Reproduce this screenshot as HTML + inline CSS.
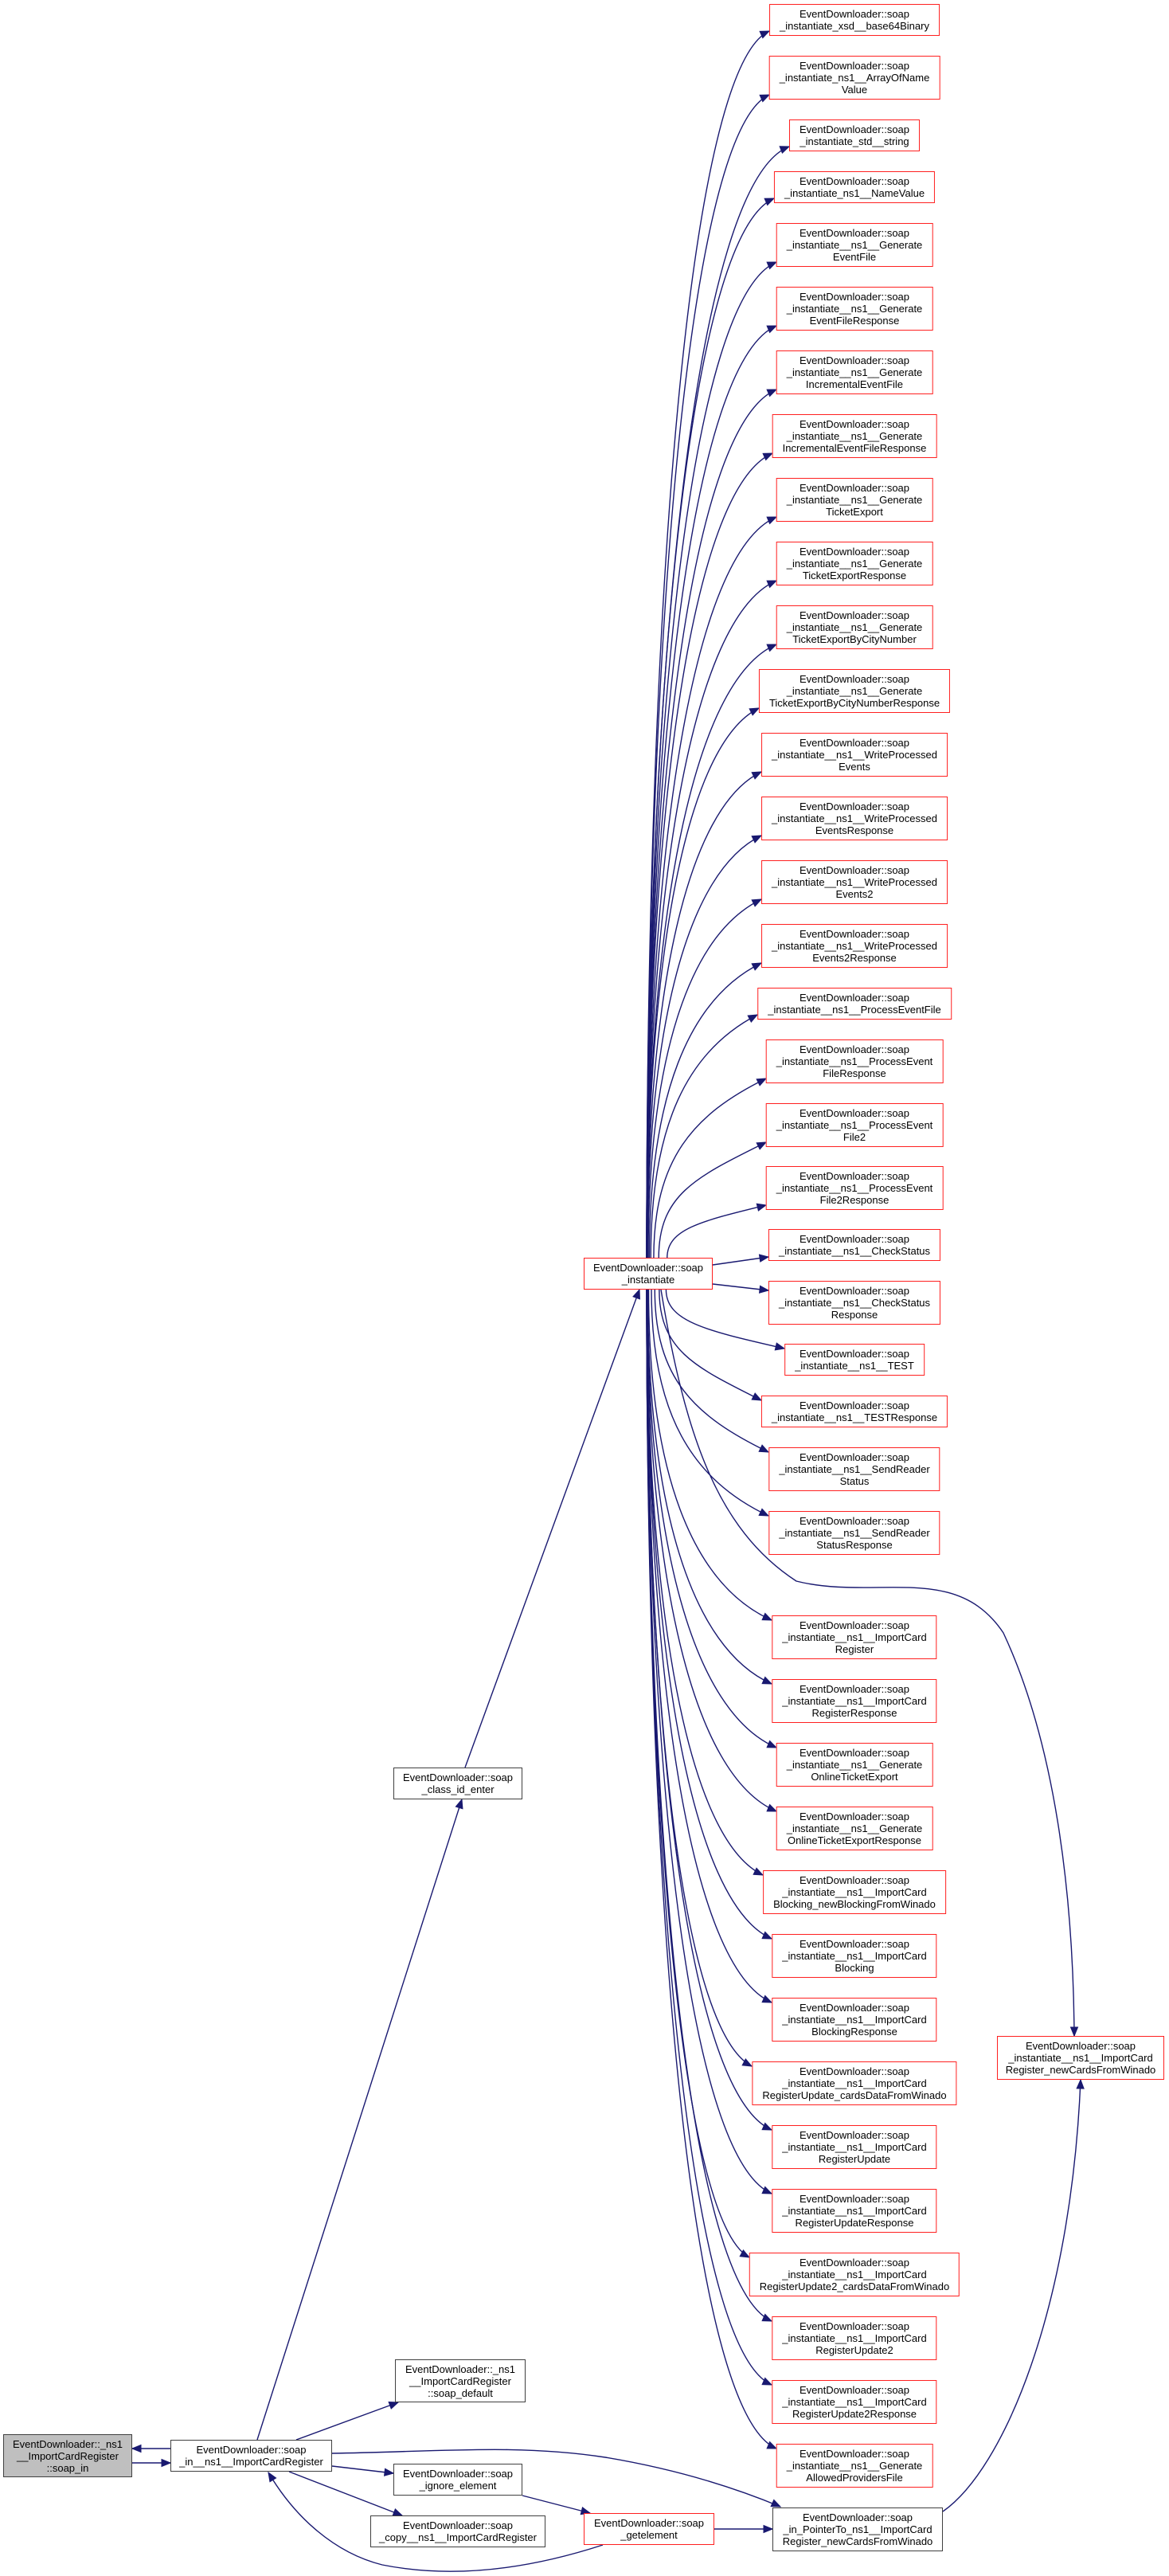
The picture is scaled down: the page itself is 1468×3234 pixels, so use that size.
<!DOCTYPE html>
<html><head><meta charset="utf-8">
<style>
html,body{margin:0;padding:0;background:#fff;}
body{width:1468px;height:3234px;position:relative;overflow:hidden;font-family:"Liberation Sans",Arial,sans-serif;}
.n{position:absolute;box-sizing:border-box;border:1.5px solid #ff2020;background:#fff;font-size:13px;line-height:15px;text-align:center;padding-top:4px;white-space:nowrap;color:#000;}
.b{border-color:#404040;}
.g{background:#bfbfbf;}
.r{left:1073px;transform:translateX(-50%);padding-left:12px;padding-right:12px;}
.h2{height:40px;}
.h3{height:55px;}
svg{position:absolute;left:0;top:0;}
</style></head><body>
<svg id="s" width="1468" height="3234"></svg>

<div class="n b g" id="soapin" style="left:4px;top:3056px;width:162px;height:54px;">EventDownloader::_ns1<br>__ImportCardRegister<br>::soap_in</div>
<div class="n b" id="inns1" style="left:214px;top:3063px;width:203px;height:40px;">EventDownloader::soap<br>_in__ns1__ImportCardRegister</div>
<div class="n b" id="classid" style="left:494px;top:2219px;width:162px;height:40px;">EventDownloader::soap<br>_class_id_enter</div>
<div class="n b" id="sdef" style="left:496px;top:2962px;width:164px;height:54px;">EventDownloader::_ns1<br>__ImportCardRegister<br>::soap_default</div>
<div class="n b" id="ign" style="left:494px;top:3093px;width:162px;height:40px;">EventDownloader::soap<br>_ignore_element</div>
<div class="n b" id="copy" style="left:465px;top:3158px;width:220px;height:40px;">EventDownloader::soap<br>_copy__ns1__ImportCardRegister</div>
<div class="n" id="inst" style="left:733px;top:1579px;width:162px;height:40px;">EventDownloader::soap<br>_instantiate</div>
<div class="n" id="getel" style="left:733px;top:3155px;width:164px;height:40px;">EventDownloader::soap<br>_getelement</div>
<div class="n b" id="ptr" style="left:970px;top:3148px;width:214px;height:55px;">EventDownloader::soap<br>_in_PointerTo_ns1__ImportCard<br>Register_newCardsFromWinado</div>
<div class="n" id="newc" style="left:1252px;top:2556px;width:210px;height:55px;">EventDownloader::soap<br>_instantiate__ns1__ImportCard<br>Register_newCardsFromWinado</div>

<div class="n r h2 rc" style="top:5px">EventDownloader::soap<br>_instantiate_xsd__base64Binary</div>
<div class="n r h3 rc" style="top:70px">EventDownloader::soap<br>_instantiate_ns1__ArrayOfName<br>Value</div>
<div class="n r h2 rc" style="top:150px">EventDownloader::soap<br>_instantiate_std__string</div>
<div class="n r h2 rc" style="top:215px">EventDownloader::soap<br>_instantiate_ns1__NameValue</div>
<div class="n r h3 rc" style="top:280px">EventDownloader::soap<br>_instantiate__ns1__Generate<br>EventFile</div>
<div class="n r h3 rc" style="top:360px">EventDownloader::soap<br>_instantiate__ns1__Generate<br>EventFileResponse</div>
<div class="n r h3 rc" style="top:440px">EventDownloader::soap<br>_instantiate__ns1__Generate<br>IncrementalEventFile</div>
<div class="n r h3 rc" style="top:520px">EventDownloader::soap<br>_instantiate__ns1__Generate<br>IncrementalEventFileResponse</div>
<div class="n r h3 rc" style="top:600px">EventDownloader::soap<br>_instantiate__ns1__Generate<br>TicketExport</div>
<div class="n r h3 rc" style="top:680px">EventDownloader::soap<br>_instantiate__ns1__Generate<br>TicketExportResponse</div>
<div class="n r h3 rc" style="top:760px">EventDownloader::soap<br>_instantiate__ns1__Generate<br>TicketExportByCityNumber</div>
<div class="n r h3 rc" style="top:840px">EventDownloader::soap<br>_instantiate__ns1__Generate<br>TicketExportByCityNumberResponse</div>
<div class="n r h3 rc" style="top:920px">EventDownloader::soap<br>_instantiate__ns1__WriteProcessed<br>Events</div>
<div class="n r h3 rc" style="top:1000px">EventDownloader::soap<br>_instantiate__ns1__WriteProcessed<br>EventsResponse</div>
<div class="n r h3 rc" style="top:1080px">EventDownloader::soap<br>_instantiate__ns1__WriteProcessed<br>Events2</div>
<div class="n r h3 rc" style="top:1160px">EventDownloader::soap<br>_instantiate__ns1__WriteProcessed<br>Events2Response</div>
<div class="n r h2 rc" style="top:1240px">EventDownloader::soap<br>_instantiate__ns1__ProcessEventFile</div>
<div class="n r h3 rc" style="top:1305px">EventDownloader::soap<br>_instantiate__ns1__ProcessEvent<br>FileResponse</div>
<div class="n r h3 rc" style="top:1385px">EventDownloader::soap<br>_instantiate__ns1__ProcessEvent<br>File2</div>
<div class="n r h3 rc" style="top:1464px">EventDownloader::soap<br>_instantiate__ns1__ProcessEvent<br>File2Response</div>
<div class="n r h2 rc" style="top:1543px">EventDownloader::soap<br>_instantiate__ns1__CheckStatus</div>
<div class="n r h3 rc" style="top:1608px">EventDownloader::soap<br>_instantiate__ns1__CheckStatus<br>Response</div>
<div class="n r h2 rc" style="top:1687px">EventDownloader::soap<br>_instantiate__ns1__TEST</div>
<div class="n r h2 rc" style="top:1752px">EventDownloader::soap<br>_instantiate__ns1__TESTResponse</div>
<div class="n r h3 rc" style="top:1817px">EventDownloader::soap<br>_instantiate__ns1__SendReader<br>Status</div>
<div class="n r h3 rc" style="top:1897px">EventDownloader::soap<br>_instantiate__ns1__SendReader<br>StatusResponse</div>
<div class="n r h3 rc" style="top:2028px">EventDownloader::soap<br>_instantiate__ns1__ImportCard<br>Register</div>
<div class="n r h3 rc" style="top:2108px">EventDownloader::soap<br>_instantiate__ns1__ImportCard<br>RegisterResponse</div>
<div class="n r h3 rc" style="top:2188px">EventDownloader::soap<br>_instantiate__ns1__Generate<br>OnlineTicketExport</div>
<div class="n r h3 rc" style="top:2268px">EventDownloader::soap<br>_instantiate__ns1__Generate<br>OnlineTicketExportResponse</div>
<div class="n r h3 rc" style="top:2348px">EventDownloader::soap<br>_instantiate__ns1__ImportCard<br>Blocking_newBlockingFromWinado</div>
<div class="n r h3 rc" style="top:2428px">EventDownloader::soap<br>_instantiate__ns1__ImportCard<br>Blocking</div>
<div class="n r h3 rc" style="top:2508px">EventDownloader::soap<br>_instantiate__ns1__ImportCard<br>BlockingResponse</div>
<div class="n r h3 rc" style="top:2588px">EventDownloader::soap<br>_instantiate__ns1__ImportCard<br>RegisterUpdate_cardsDataFromWinado</div>
<div class="n r h3 rc" style="top:2668px">EventDownloader::soap<br>_instantiate__ns1__ImportCard<br>RegisterUpdate</div>
<div class="n r h3 rc" style="top:2748px">EventDownloader::soap<br>_instantiate__ns1__ImportCard<br>RegisterUpdateResponse</div>
<div class="n r h3 rc" style="top:2828px">EventDownloader::soap<br>_instantiate__ns1__ImportCard<br>RegisterUpdate2_cardsDataFromWinado</div>
<div class="n r h3 rc" style="top:2908px">EventDownloader::soap<br>_instantiate__ns1__ImportCard<br>RegisterUpdate2</div>
<div class="n r h3 rc" style="top:2988px">EventDownloader::soap<br>_instantiate__ns1__ImportCard<br>RegisterUpdate2Response</div>
<div class="n r h3 rc" style="top:3068px">EventDownloader::soap<br>_instantiate__ns1__Generate<br>AllowedProvidersFile</div>

<script>
(function(){
var s=document.getElementById('s'),NS='http://www.w3.org/2000/svg',C='#191970',out='';
function path(d){out+='<path d="'+d+'" fill="none" stroke="'+C+'" stroke-width="1.4"/>';}
function arrow(px,py,x,y){var dx=x-px,dy=y-py,l=Math.sqrt(dx*dx+dy*dy)||1;dx/=l;dy/=l;
 var L=11,W=4.5,bx=x-dx*L,by=y-dy*L;
 out+='<polygon points="'+x+','+y+' '+(bx-dy*W)+','+(by+dx*W)+' '+(bx+dy*W)+','+(by-dx*W)+'" fill="'+C+'" stroke="'+C+'"/>';}
function edge(d,px,py,x,y){path(d);arrow(px,py,x,y);}
var rs=document.querySelectorAll('.rc');
for(var i=0;i<rs.length;i++){
 var R=rs[i].getBoundingClientRect(),tx=Math.round(R.left);
 var cy=(R.top+R.bottom)/2;
 if(cy>1560&&cy<1640){ // CheckStatus & Response
   var sy=cy<1600?1588:1612,ty=cy<1600?R.bottom-5:R.top+12;
   edge('M895,'+sy+' L'+tx+','+ty,895,sy,tx,ty);continue;}
 if(cy<1600){
   var ty=R.bottom-6,dy=1579-ty,sx=812+40*Math.exp(-dy/150);
   var p1x=sx,p1y=1579-0.55*dy,p2x=sx+0.35*(tx-sx),p2y=ty+Math.min(0.3*dy,45);
   edge('M'+sx+',1579 C'+p1x+','+p1y+' '+p2x+','+p2y+' '+tx+','+ty,p2x,p2y,tx,ty);
 }else{
   var ty=R.top+6,dy=ty-1619,sx=812+40*Math.exp(-dy/150);
   var p1x=sx,p1y=1619+0.55*dy,p2x=sx+0.35*(tx-sx),p2y=ty-Math.min(0.3*dy,45);
   edge('M'+sx+',1619 C'+p1x+','+p1y+' '+p2x+','+p2y+' '+tx+','+ty,p2x,p2y,tx,ty);
 }
}
// instantiate -> newCards
edge('M830,1619 C860,1800 900,1920 1000,1985 C1100,2010 1200,1960 1260,2050 C1330,2200 1348,2400 1349,2556',1349,2530,1349,2556);
// ptr -> newCards
edge('M1184,3153 C1260,3100 1345,2900 1357,2611',1356,2640,1357,2611);
// soap_in__ns1 -> soap_in
edge('M214,3074 L166,3074',214,3074,166,3074);
// soap_in -> soap_in__ns1
edge('M166,3092 L214,3092',166,3092,214,3092);
// soap_in__ns1 -> class_id_enter
edge('M323,3063 L580,2259',323,3063,580,2259);
// class_id_enter -> instantiate
edge('M584,2219 L803,1619',584,2219,803,1619);
// -> soap_default
edge('M372,3063 L500,3016',372,3063,500,3016);
// -> ignore
edge('M417,3096 L494,3105',417,3096,494,3105);
// -> copy
edge('M363,3103 L505,3158',363,3103,505,3158);
// ignore -> getelement
edge('M656,3133 L741,3155',656,3133,741,3155);
// getelement -> ptr
edge('M897,3175 L970,3175',897,3175,970,3175);
// soap_in__ns1 -> ptr
edge('M417,3080 C550,3078 650,3068 760,3085 C850,3100 920,3122 980,3147',960,3138,980,3147);
// getelement -> soap_in__ns1
edge('M757,3195 C680,3220 580,3240 480,3220 C420,3205 370,3160 337,3104',350,3125,337,3104);
s.innerHTML=out;
})();
</script>
</body></html>
